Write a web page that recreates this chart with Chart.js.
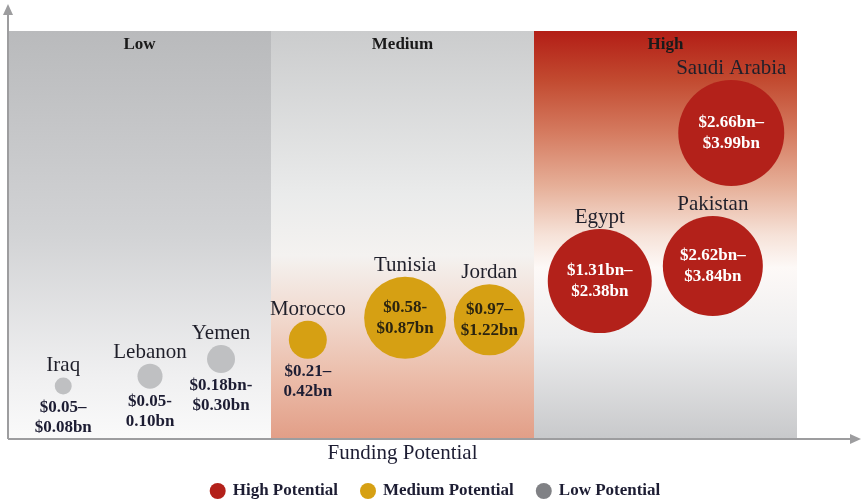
<!DOCTYPE html>
<html>
<head>
<meta charset="utf-8">
<script src="https://cdn.jsdelivr.net/npm/chart.js@4"></script>
<style>
  body { margin: 0; background: #ffffff; }
  #wrap { width: 862px; height: 502px; }
</style>
</head>
<body>
<div id="wrap"><canvas id="grafico" width="862" height="502"></canvas></div>
<script>
// countries and where each sits on the funding map
const countries = ["Iraq", "Lebanon", "Yemen", "Morocco", "Tunisia", "Jordan", "Egypt", "Pakistan", "Saudi Arabia"];
const potential = ["Low", "Low", "Low", "Medium", "Medium", "Medium", "High", "High", "High"];
const posX = [0.21, 0.54, 0.81, 1.14, 1.51, 1.83, 2.25, 2.68, 2.75];
const posY = [13.0, 15.4, 19.6, 24.3, 29.7, 29.2, 38.7, 42.4, 75.0];
const bubbleSize = [8.5, 12.5, 14, 19, 41, 35.5, 52, 50, 53];
const rangeFrom = ["$0.05–", "$0.05-", "$0.18bn-", "$0.21–", "$0.58-", "$0.97–", "$1.31bn–", "$2.62bn–", "$2.66bn–"];
const rangeTo = ["$0.08bn", "0.10bn", "$0.30bn", "0.42bn", "$0.87bn", "$1.22bn", "$2.38bn", "$3.84bn", "$3.99bn"];

const bands = ["Low", "Medium", "High"];
const legendLabels = ["High Potential", "Medium Potential", "Low Potential"];

const potentialColors = {
    "High": "#b3211a",
    "Medium": "#d6a013",
    "Low": "#bfc0c2"
};
const legendColors = ["#b3211a", "#d6a013", "#808185"];

const serif = "'Liberation Serif', 'DejaVu Serif', serif";
const navy = "#1d1d33";

const datasets = ["High", "Medium", "Low"].map(level => {
    const idx = countries.map((c, i) => i).filter(i => potential[i] === level);
    return {
        label: level + " Potential",
        data: idx.map(i => ({ x: posX[i], y: posY[i], r: bubbleSize[i], idx: i })),
        backgroundColor: potentialColors[level],
        borderWidth: 0,
        hoverRadius: 0,
        clip: false
    };
});

// shaded bands behind the bubbles
const bandPlugin = {
    id: "bands",
    beforeDatasetsDraw(chart) {
        const { ctx, scales: { x, y } } = chart;
        const top = y.getPixelForValue(100);
        const bottom = y.getPixelForValue(0);
        const stops = {
            Low: [[0, "#b9babc"], [0.5, "#d2d3d5"], [0.85, "#f0f0f1"], [1, "#fafafa"]],
            Medium: [[0, "#cbcccd"], [0.4, "#eaebeb"], [0.55, "#f4f2f0"], [0.7, "#f1d9ce"], [0.85, "#ebbca9"], [1, "#e29e87"]],
            High: [[0, "#b31e16"], [0.12, "#c24a30"], [0.25, "#d57b60"], [0.38, "#e6af98"], [0.5, "#f6e2d8"], [0.58, "#fdf9f7"], [0.75, "#eeeeef"], [1, "#c8c9cb"]]
        };
        bands.forEach((b, i) => {
            const left = x.getPixelForValue(i);
            const right = x.getPixelForValue(i + 1);
            const g = ctx.createLinearGradient(0, top, 0, bottom);
            stops[b].forEach(s => g.addColorStop(s[0], s[1]));
            ctx.fillStyle = g;
            ctx.fillRect(left, top, right - left, bottom - top);

            ctx.fillStyle = "#1a1a1a";
            ctx.font = "bold 17px " + serif;
            ctx.textAlign = "center";
            ctx.textBaseline = "middle";
            ctx.fillText(b, (left + right) / 2, top + 14);
        });

        // axes with arrow heads
        const x0 = x.getPixelForValue(0);
        ctx.strokeStyle = "#9d9d9f";
        ctx.fillStyle = "#9d9d9f";
        ctx.lineWidth = 2;
        ctx.beginPath();
        ctx.moveTo(x0, bottom);
        ctx.lineTo(x0, 14);
        ctx.moveTo(x0, bottom);
        ctx.lineTo(852, bottom);
        ctx.stroke();
        ctx.beginPath();
        ctx.moveTo(x0, 4);
        ctx.lineTo(x0 - 5, 15);
        ctx.lineTo(x0 + 5, 15);
        ctx.closePath();
        ctx.fill();
        ctx.beginPath();
        ctx.moveTo(861, bottom);
        ctx.lineTo(850, bottom - 5);
        ctx.lineTo(850, bottom + 5);
        ctx.closePath();
        ctx.fill();
    }
};

// country names and funding ranges
const labelPlugin = {
    id: "labels",
    afterDatasetsDraw(chart) {
        const ctx = chart.ctx;
        chart.data.datasets.forEach((ds, di) => {
            const meta = chart.getDatasetMeta(di);
            meta.data.forEach((pt, j) => {
                const i = ds.data[j].idx;
                const r = bubbleSize[i];
                ctx.textAlign = "center";

                ctx.fillStyle = "#1f1f2a";
                ctx.font = "21px " + serif;
                ctx.textBaseline = "alphabetic";
                ctx.fillText(countries[i], pt.x, pt.y - r - 6);

                ctx.font = "bold 17px " + serif;
                ctx.textBaseline = "middle";
                if (r > 30) {
                    ctx.fillStyle = potential[i] === "High" ? "#ffffff" : "#2b2410";
                    ctx.fillText(rangeFrom[i], pt.x, pt.y - 10);
                    ctx.fillText(rangeTo[i], pt.x, pt.y + 11);
                } else {
                    ctx.fillStyle = navy;
                    ctx.fillText(rangeFrom[i], pt.x, pt.y + r + 13);
                    ctx.fillText(rangeTo[i], pt.x, pt.y + r + 33);
                }
            });
        });
    },
    afterDraw(chart) {
        const { ctx, chartArea } = chart;
        ctx.fillStyle = navy;
        ctx.font = "21px " + serif;
        ctx.textAlign = "center";
        ctx.textBaseline = "middle";
        ctx.fillText("Funding Potential", (chartArea.left + chartArea.right) / 2, 453);

        // legend row
        ctx.font = "bold 17px " + serif;
        const widths = legendLabels.map(t => ctx.measureText(t).width);
        const itemW = widths.map(w => 16 + 7 + w);
        const total = itemW.reduce((a, b) => a + b, 0) + 22 * 2;
        let cx = 435 - total / 2;
        legendLabels.forEach((t, k) => {
            ctx.fillStyle = legendColors[k];
            ctx.beginPath();
            ctx.arc(cx + 8, 491, 8, 0, Math.PI * 2);
            ctx.fill();
            ctx.fillStyle = navy;
            ctx.textAlign = "left";
            ctx.fillText(t, cx + 23, 491);
            cx += itemW[k] + 22;
        });
    }
};

new Chart(document.getElementById("grafico").getContext("2d"), {
    type: "bubble",
    data: { datasets: datasets },
    options: {
        responsive: false,
        animation: false,
        events: [],
        layout: { autoPadding: false, padding: { left: 8, top: 31, right: 65, bottom: 63 } },
        scales: {
            x: { display: false, min: 0, max: 3 },
            y: { display: false, min: 0, max: 100 }
        },
        plugins: {
            legend: { display: false },
            tooltip: { enabled: false }
        }
    },
    plugins: [bandPlugin, labelPlugin]
});
</script>
</body>
</html>
